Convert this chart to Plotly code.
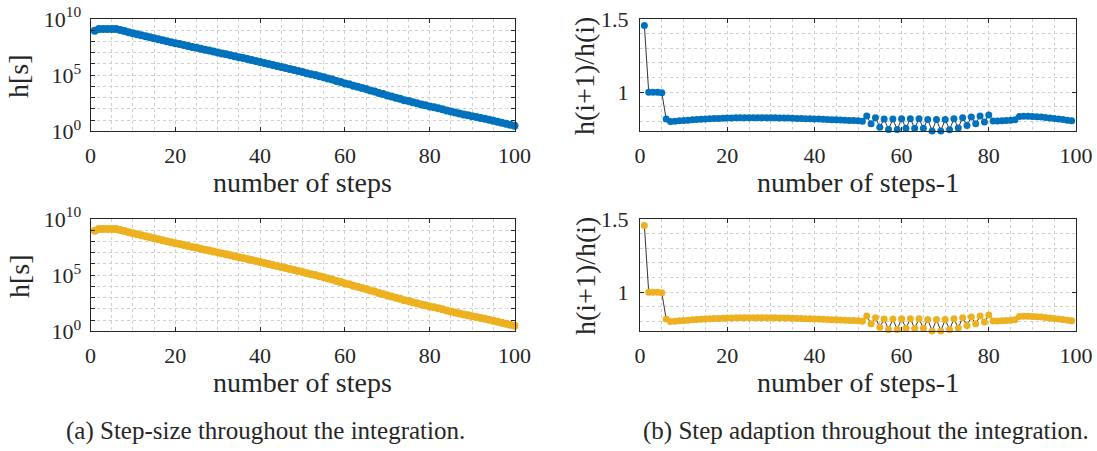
import numpy as np
import plotly.graph_objects as go

# ---- data ----
steps = list(range(1, 101))            # number of steps
ratio_steps = list(range(1, 100))      # number of steps-1
h_first = 8.5e8                        # h at step 1 [s]
ratio = [
    1.454, 1.0, 1.0, 1.0, 0.997, 0.817, 0.801,
    0.803, 0.806, 0.808, 0.810, 0.812, 0.814, 0.816, 0.818, 0.819, 0.821, 0.822, 0.823, 0.824,
    0.825, 0.826, 0.826, 0.827, 0.827, 0.827, 0.827, 0.827, 0.827, 0.826, 0.826, 0.825, 0.825, 0.824, 0.823,
    0.822, 0.821, 0.820, 0.819, 0.818, 0.817, 0.816, 0.815, 0.813, 0.812, 0.811, 0.810, 0.808, 0.807, 0.805, 0.803,
    0.838, 0.785, 0.827, 0.762, 0.817, 0.746, 0.817, 0.746, 0.820, 0.755, 0.820, 0.755, 0.820, 0.755,
    0.815, 0.736, 0.815, 0.736, 0.815, 0.744, 0.820, 0.757, 0.827, 0.774, 0.831, 0.785, 0.838, 0.797,
    0.845, 0.804,
    0.804, 0.805, 0.807, 0.809, 0.812,
    0.835, 0.836, 0.836, 0.835,
    0.833, 0.831, 0.828, 0.825, 0.822, 0.818, 0.814, 0.810, 0.806,
]
# step sizes follow from h(i+1) = ratio(i) * h(i)
h = list(h_first * np.concatenate([[1.0], np.cumprod(ratio)]))

x_ticks = [0, 20, 40, 60, 80, 100]
log_tick_vals = [10.0 ** k for k in range(0, 11)]
log_tick_text = ["10<sup>0</sup>", "", "", "", "", "10<sup>5</sup>", "", "", "", "", "10<sup>10</sup>"]
ratio_tick_vals = [1, 1.5]
ratio_tick_text = ["1", "1.5"]

colors = ["#0072BD", "#EDB120"]
captions = ["(a) Step-size throughout the integration.",
            "(b) Step adaption throughout the integration."]

# ---- figure ----
W, H = 1097, 451
FONT = "Liberation Serif"
AXC = "#262626"
TXT = "#262626"
GRIDC = "#d0d0d0"

fig = go.Figure()

xdom = {"L": [90.5 / W, 514.5 / W], "R": [640 / W, 1076 / W]}
ydom = {0: [1 - 131.3 / H, 1 - 18.8 / H], 1: [1 - 331.3 / H, 1 - 218.8 / H]}

axis_id = 0
for row in range(2):
    color = colors[row]
    for side in ["L", "R"]:
        axis_id += 1
        xa = "x" if axis_id == 1 else f"x{axis_id}"
        ya = "y" if axis_id == 1 else f"y{axis_id}"
        if side == "L":
            xs, ys, msize = steps, h, 8
        else:
            xs, ys, msize = ratio_steps, ratio, 7
        fig.add_trace(go.Scatter(
            x=xs, y=ys, mode="lines+markers", xaxis=xa, yaxis=ya,
            line=dict(color="black", width=0.8),
            marker=dict(color=color, size=msize, line=dict(width=0)),
            cliponaxis=False, showlegend=False, hoverinfo="skip"))

        common = dict(showline=True, linecolor=AXC, linewidth=1, mirror="ticks",
                      ticks="inside", ticklen=4, tickcolor=AXC, zeroline=False,
                      automargin=False,
                      tickfont=dict(family=FONT, size=22, color=TXT),
                      gridcolor=GRIDC, griddash="dot", gridwidth=1)
        xkey = "xaxis" if axis_id == 1 else f"xaxis{axis_id}"
        ykey = "yaxis" if axis_id == 1 else f"yaxis{axis_id}"
        fig.layout[xkey] = dict(common, domain=xdom[side], anchor=ya, range=[0, 100],
                                tickvals=x_ticks, showgrid=True, ticklabelstandoff=4,
                                minor=dict(dtick=5, tick0=0, showgrid=True, gridcolor=GRIDC,
                                           griddash="dot", ticks=""))
        if side == "L":
            fig.layout[ykey] = dict(common, domain=ydom[row], anchor=xa, type="log",
                                    range=[0, 10], tickvals=log_tick_vals,
                                    ticktext=log_tick_text, showgrid=True,
                                    ticklabelstandoff=4)
        else:
            fig.layout[ykey] = dict(common, domain=ydom[row], anchor=xa,
                                    range=[0.734, 1.5], tickvals=ratio_tick_vals,
                                    ticktext=ratio_tick_text, showgrid=True,
                                    ticklabelstandoff=6,
                                    minor=dict(dtick=0.1, tick0=0, showgrid=True,
                                               gridcolor=GRIDC, griddash="dot", ticks=""))


def label(text, px, py, size, angle=0):
    return dict(text=text, x=px / W, y=1 - py / H, xref="paper", yref="paper",
                xanchor="center", yanchor="middle", textangle=angle, showarrow=False,
                font=dict(family=FONT, size=size, color=TXT))


annots = []
for row in range(2):
    off = 200 * row
    annots.append(label("number of steps", 302.5, 182 + off, 28))
    annots.append(label("number of steps-1", 858, 182 + off, 28))
    annots.append(label("h[s]", 19, 76 + off, 28, -90))
    annots.append(label("h(i+1)/h(i)", 585, 76 + off, 28, -90))
annots.append(label(captions[0], 265, 431, 25))
annots.append(label(captions[1], 866, 431, 25))

fig.update_layout(width=W, height=H, margin=dict(l=0, r=0, t=0, b=0, autoexpand=False),
                  paper_bgcolor="white", plot_bgcolor="white",
                  annotations=annots, showlegend=False)

fig.write_html("out.html")
